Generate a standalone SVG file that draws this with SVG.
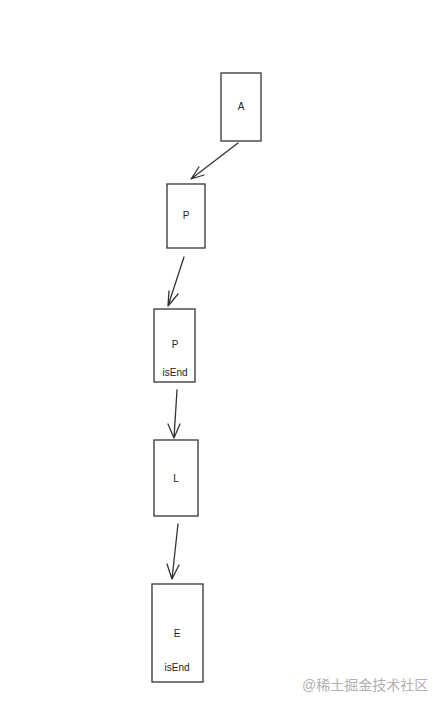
<svg xmlns="http://www.w3.org/2000/svg" width="442" height="708" viewBox="0 0 442 708">
<defs>
<style>
.box{fill:#fff;stroke:#333;stroke-width:1.3}
.lbl{font-family:"Liberation Sans",Arial,sans-serif;font-size:10px;fill:#222;text-anchor:middle}
.edge{fill:none;stroke:#333;stroke-width:1.3;stroke-linecap:round}
.wm{font-family:"Liberation Sans","Noto Sans CJK SC",sans-serif;font-size:14px;fill:#b0b0b0}
</style>
</defs>
<rect width="442" height="708" fill="#fff"/>
<g id="connectors">
<path class="edge" d="M238,143 L191,179 M191,179 L199,167 M191,179 L204,175"/>
<path class="edge" d="M184,257 L168,306 M168,306 L169,291 M168,306 L178,294"/>
<path class="edge" d="M177,390 L174,438 M174,438 L168,424 M174,438 L180,424"/>
<path class="edge" d="M178,524 L172,579 M172,579 L167,564 M172,579 L179,565"/>
</g>
<g id="nodeA"><rect class="box" x="221" y="73" width="40" height="68"/><text class="lbl" x="241" y="110">A</text></g>
<g id="nodeP1"><rect class="box" x="167" y="184" width="38" height="64"/><text class="lbl" x="186" y="219">P</text></g>
<g id="nodeP2"><rect class="box" x="154" y="309" width="41" height="73"/><text class="lbl" x="175" y="348">P</text><text class="lbl" x="175" y="376">isEnd</text></g>
<g id="nodeL"><rect class="box" x="154" y="440" width="44" height="76"/><text class="lbl" x="176" y="482">L</text></g>
<g id="nodeE"><rect class="box" x="152" y="584" width="51" height="98"/><text class="lbl" x="177" y="637">E</text><text class="lbl" x="177" y="671">isEnd</text></g>
<text class="wm" x="302" y="690">@稀土掘金技术社区</text>
</svg>
